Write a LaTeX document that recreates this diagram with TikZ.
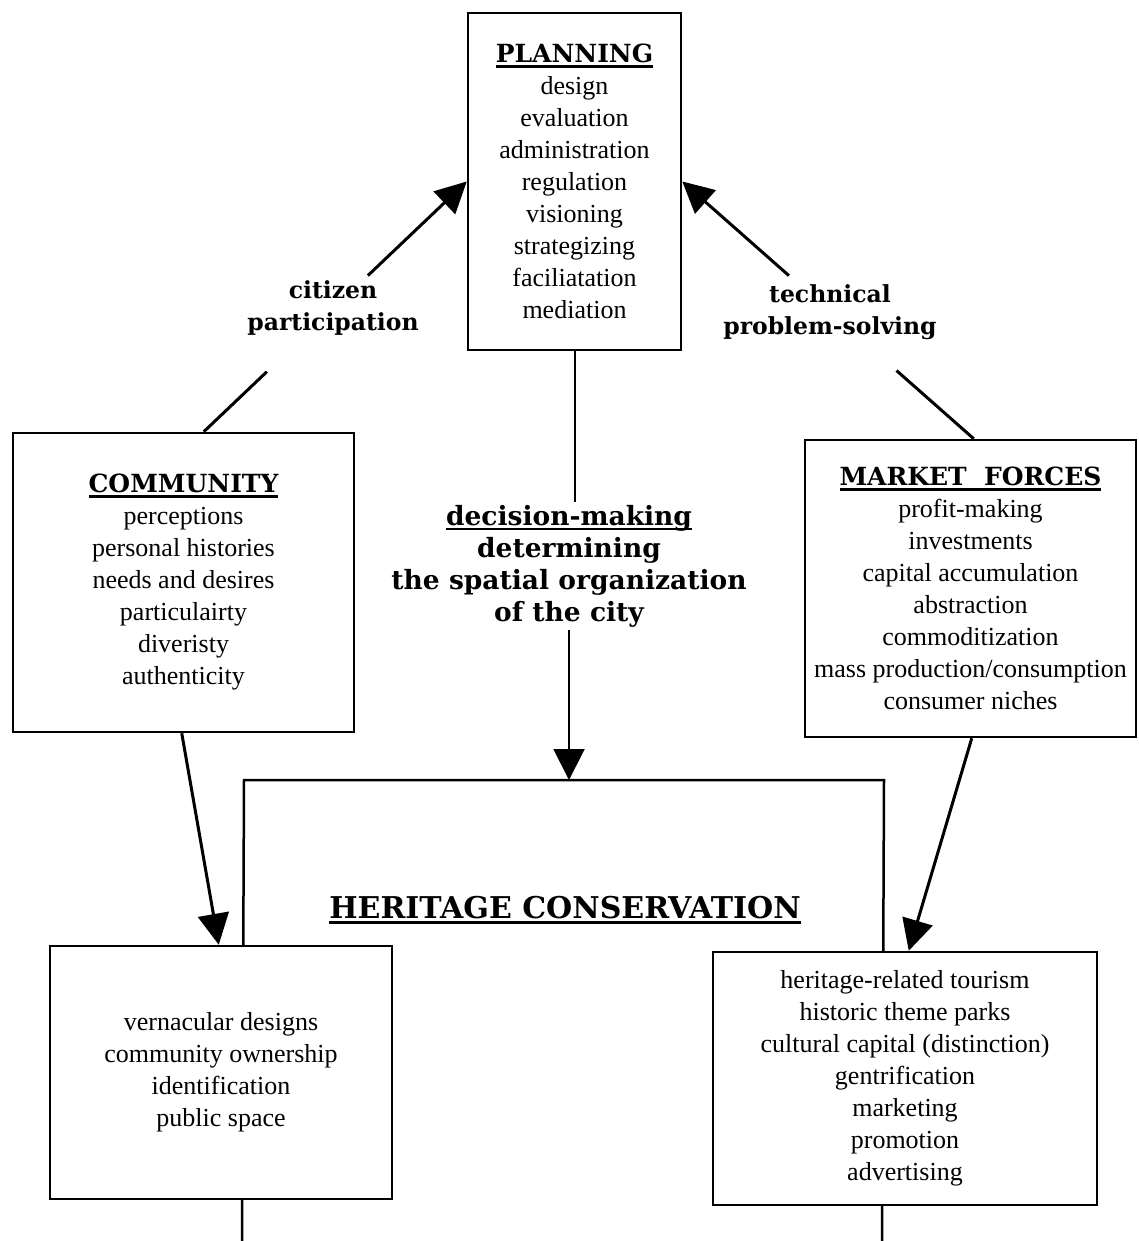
\documentclass[tikz,border=0pt]{standalone}
\usepackage{fontspec}
\setmainfont{Liberation Serif}
\newfontfamily\headfont{DejaVu Serif}
\usetikzlibrary{arrows.meta,calc}
\newcommand\hul[1]{\setbox0\hbox{#1}\rlap{\rule[-5pt]{\wd0}{2.5pt}}\box0}
\tikzset{
  boxnode/.style={draw, line width=2.5pt, fill=white, inner sep=0pt, align=center,
    font=\fontsize{26}{32}\selectfont},
  lbl/.style={align=center, font=\headfont\bfseries\fontsize{23.5}{32}\selectfont, inner sep=2pt},
  conn/.style={line width=3pt},
  arr/.style={line width=3pt, -{Triangle[length=31pt,width=31pt]}},
  boxline/.style={line width=2.5pt}
}
\begin{document}
\begin{tikzpicture}[x=1pt,y=-1pt]
\useasboundingbox (0,0) rectangle (1138,1241);
% heritage conservation frame (runs past the bottom edge)
\coordinate (hbl) at (242,1241);
\coordinate (htl) at (244,780);
\coordinate (htr) at (884,780);
\coordinate (hbr) at (882,1241);
\draw[boxline] (hbl) -- (htl) -- (htr) -- (hbr);
\node[font=\headfont\bfseries\fontsize{30}{36}\selectfont, inner sep=0pt] (her) at (565,910) {\hul{HERITAGE CONSERVATION}};

% boxes
\node[boxnode, minimum width=213pt, minimum height=337pt] (plan) at (574.5,181.5)
 {{\headfont\bfseries\fontsize{25}{32}\selectfont\hul{PLANNING}}\\design\\evaluation\\administration\\regulation\\visioning\\strategizing\\faciliatation\\mediation};
\node[boxnode, minimum width=341pt, minimum height=299pt] (comm) at (183.5,582.5)
 {{\headfont\bfseries\fontsize{25}{32}\selectfont\hul{COMMUNITY}}\\perceptions\\personal histories\\needs and desires\\particulairty\\diveristy\\authenticity};
\node[boxnode, minimum width=331pt, minimum height=297pt] (mark) at (970.5,588.5)
 {{\headfont\bfseries\fontsize{25}{32}\selectfont\hul{MARKET\ \ FORCES}}\\profit-making\\investments\\capital accumulation\\abstraction\\commoditization\\mass production/consumption\\consumer niches};
\node[boxnode, minimum width=342pt, minimum height=253pt] (vern) at (221,1072.5)
 {vernacular designs\\community ownership\\identification\\public space};
\node[boxnode, minimum width=384pt, minimum height=253pt] (tour) at (905,1078.5)
 {heritage-related tourism\\historic theme parks\\cultural capital (distinction)\\gentrification\\marketing\\promotion\\advertising};

% labels
\node[lbl] (cit) at (333,308) {citizen\\participation};
\node[lbl] (tech) at (830,312) {technical\\problem-solving};
\node[align=center, font=\headfont\bfseries\fontsize{26.5}{32}\selectfont, inner sep=3pt] (dec) at (569,566)
 {\hul{decision-making}\\determining\\the spatial organization\\of the city};

% connector end points
\coordinate (c1) at ([xshift=192pt]comm.north west);
\coordinate (c2) at ([xshift=170pt]mark.north west);
\coordinate (c3) at ([xshift=170pt]comm.south west);
\coordinate (t3) at ([xshift=170pt]vern.north west);
\coordinate (c4) at ([xshift=168pt]mark.south west);
\coordinate (t4) at ([xshift=197pt]tour.north west);
\coordinate (htop) at (568,780);

% connectors
\draw[conn] (c1) -- ($(c1)!0.24!(plan.west)$);
\draw[arr] ($(c1)!0.624!(plan.west)$) -- (plan.west);
\draw[conn] (c2) -- ($(c2)!0.265!(plan.east)$);
\draw[arr] ($(c2)!0.634!(plan.east)$) -- (plan.east);
\draw[line width=2pt] (plan.south) -- (plan.south |- dec.north);
\draw[arr, line width=2pt] (dec.south) -- (dec.south |- htop);
\draw[arr] (c3) -- (t3);
\draw[arr] (c4) -- (t4);
\end{tikzpicture}
\end{document}
